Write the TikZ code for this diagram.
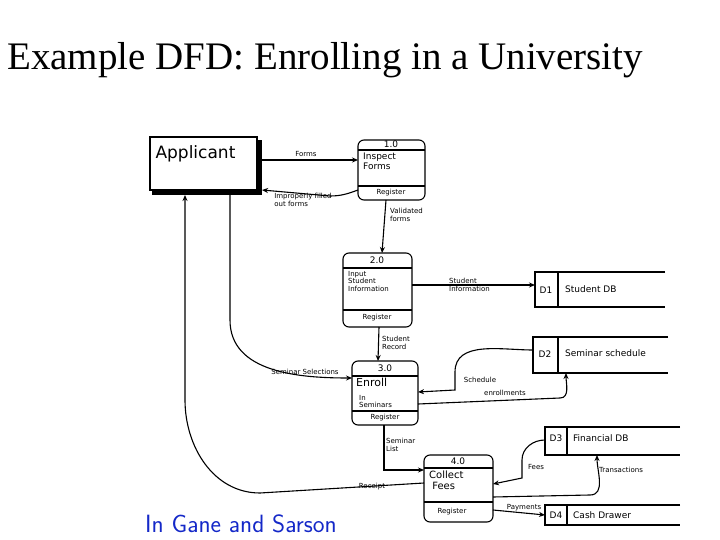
\documentclass[tikz,border=0pt]{standalone}
\usepackage{fontspec}
\setmainfont{Liberation Serif}
\newfontfamily\hand{DejaVu Sans}
\usetikzlibrary{arrows.meta}
\definecolor{foot}{RGB}{20,40,200}
\begin{document}
\begin{tikzpicture}[x=1pt,y=-1pt,
  ln/.style={line width=1.1pt,black},
  fl/.style={ln,-{Stealth[length=6pt,width=5pt]}},
  lab/.style={font=\hand\fontsize{7}{7.5}\selectfont,align=left,inner sep=1pt},
  ptxt/.style={font=\hand\fontsize{9}{10}\selectfont,align=left,inner sep=1pt}]
\useasboundingbox (0,0) rectangle (720,540);
\node[anchor=west,font=\fontsize{39}{42}\selectfont,inner sep=0] (title) at (7,60) {Example DFD: Enrolling in a University};
\node[anchor=west,font=\sffamily\fontsize{25}{27}\selectfont,text=foot,inner sep=0] (foot) at (145,524) {In Gane and Sarson};
% Applicant
\fill (256,140) rectangle (262,194);
\fill (152,190) rectangle (262,195);
\draw[ln] (150,137) rectangle (257,190);
\node[anchor=north west,font=\hand\fontsize{17}{19}\selectfont] (app) at (152,142) {Applicant};
% processes
\newcommand{\proc}[8]{%
 \draw[ln,rounded corners=6pt] (#2,#3) rectangle (#4,#5);
 \draw[ln] (#2,#6) -- (#4,#6); \draw[ln] (#2,#7) -- (#4,#7);
 \coordinate (#1) at ({(#2+#4)/2},{(#3+#5)/2});}
\proc{p1}{358}{140}{425}{200}{150}{186}{}
\node[ptxt] at (391,144) {1.0};
\node[ptxt,anchor=north west] at (362,152) {Inspect\\Forms};
\node[lab] at (391,193) {Register};
\proc{p2}{343}{253}{412}{327}{268}{310}{}
\node[ptxt] at (377,260) {2.0};
\node[lab,anchor=north west] at (347,270) {Input\\Student\\Information};
\node[lab] at (377,318) {Register};
\proc{p3}{352}{361}{418}{425}{376}{411}{}
\node[ptxt] at (385,368) {3.0};
\node[ptxt,font=\hand\fontsize{11}{12}\selectfont,anchor=north west] at (355,377) {Enroll};
\node[lab,anchor=north west] at (358,394) {In\\Seminars};
\node[lab] at (385,418) {Register};
\proc{p4}{424}{455}{493}{522}{468}{502}{}
\node[ptxt] at (458,461) {4.0};
\node[ptxt,font=\hand\fontsize{10}{11}\selectfont,anchor=north west] at (428,470) {Collect\\\ Fees};
\node[lab] at (452,512) {Register};
% stores
\newcommand{\store}[7]{%
 \draw[ln] (#5,#3) -- (#2,#3) -- (#2,#4) -- (#5,#4); \draw[ln] (#6,#3) -- (#6,#4);
 \coordinate (#1) at (#2,{(#3+#4)/2});}
\store{d1}{535}{272}{307}{665}{558}{}
\node[ptxt] at (546,290) {D1}; \node[ptxt,anchor=west] at (564,289) {Student DB};
\store{d2}{533}{337}{373}{668}{558}{}
\node[ptxt] at (545,354) {D2}; \node[ptxt,anchor=west] at (564,353) {Seminar schedule};
\store{d3}{545}{427}{455}{680}{567}{}
\node[ptxt] at (556,438) {D3}; \node[ptxt,anchor=west] at (572,438) {Financial DB};
\store{d4}{545}{505}{525}{680}{567}{}
\node[ptxt] at (556,515) {D4}; \node[ptxt,anchor=west] at (572,515) {Cash Drawer};
% flows
\draw[fl] (257,160) -- (358,160);
\node[lab] at (306,154) {Forms};
\draw[fl] (358,190) to[out=200,in=0] (330,196) -- (262,190);
\node[lab] at (303,200) {Improperly filled\\out forms};
\draw[fl] (386,200) -- (382,253);
\node[lab,anchor=west] at (389,215) {Validated\\forms};
\draw[fl] (412,285) -- (535,285);
\node[lab,anchor=west] at (448,285) {Student\\Information};
\draw[fl] (379,327) -- (378,361);
\node[lab,anchor=west] at (381,343) {Student\\Record};
\draw[fl] (230,195) -- (230,320) to[out=-90,in=180] (352,378);
\node[lab] at (305,372) {Seminar Selections};
\draw[fl] (424,483) -- (260,493) to[out=180,in=-90] (185,400) -- (185,195);
\node[lab] at (372,487) {Receipt};
\draw[fl] (533,350) to[out=180,in=90] (455,372) -- (455,390) -- (418,392);
\node[lab] at (480,380) {Schedule};
\draw[fl] (418,404) -- (560,398) to[out=0,in=-90] (566,373);
\node[lab] at (505,393) {enrollments};
\draw[fl] (384,425) -- (384,470) -- (424,470);
\node[lab,anchor=west] at (385,445) {Seminar\\List};
\draw[fl] (545,440) to[out=180,in=90] (522,460) -- (522,478) -- (493,484);
\node[lab] at (536,467) {Fees};
\draw[fl] (493,497) -- (590,495) to[out=0,in=-90] (597,455);
\node[lab,anchor=west] at (598,470) {Transactions};
\draw[fl] (493,510) -- (545,515);
\node[lab] at (524,508) {Payments};
\end{tikzpicture}
\end{document}
